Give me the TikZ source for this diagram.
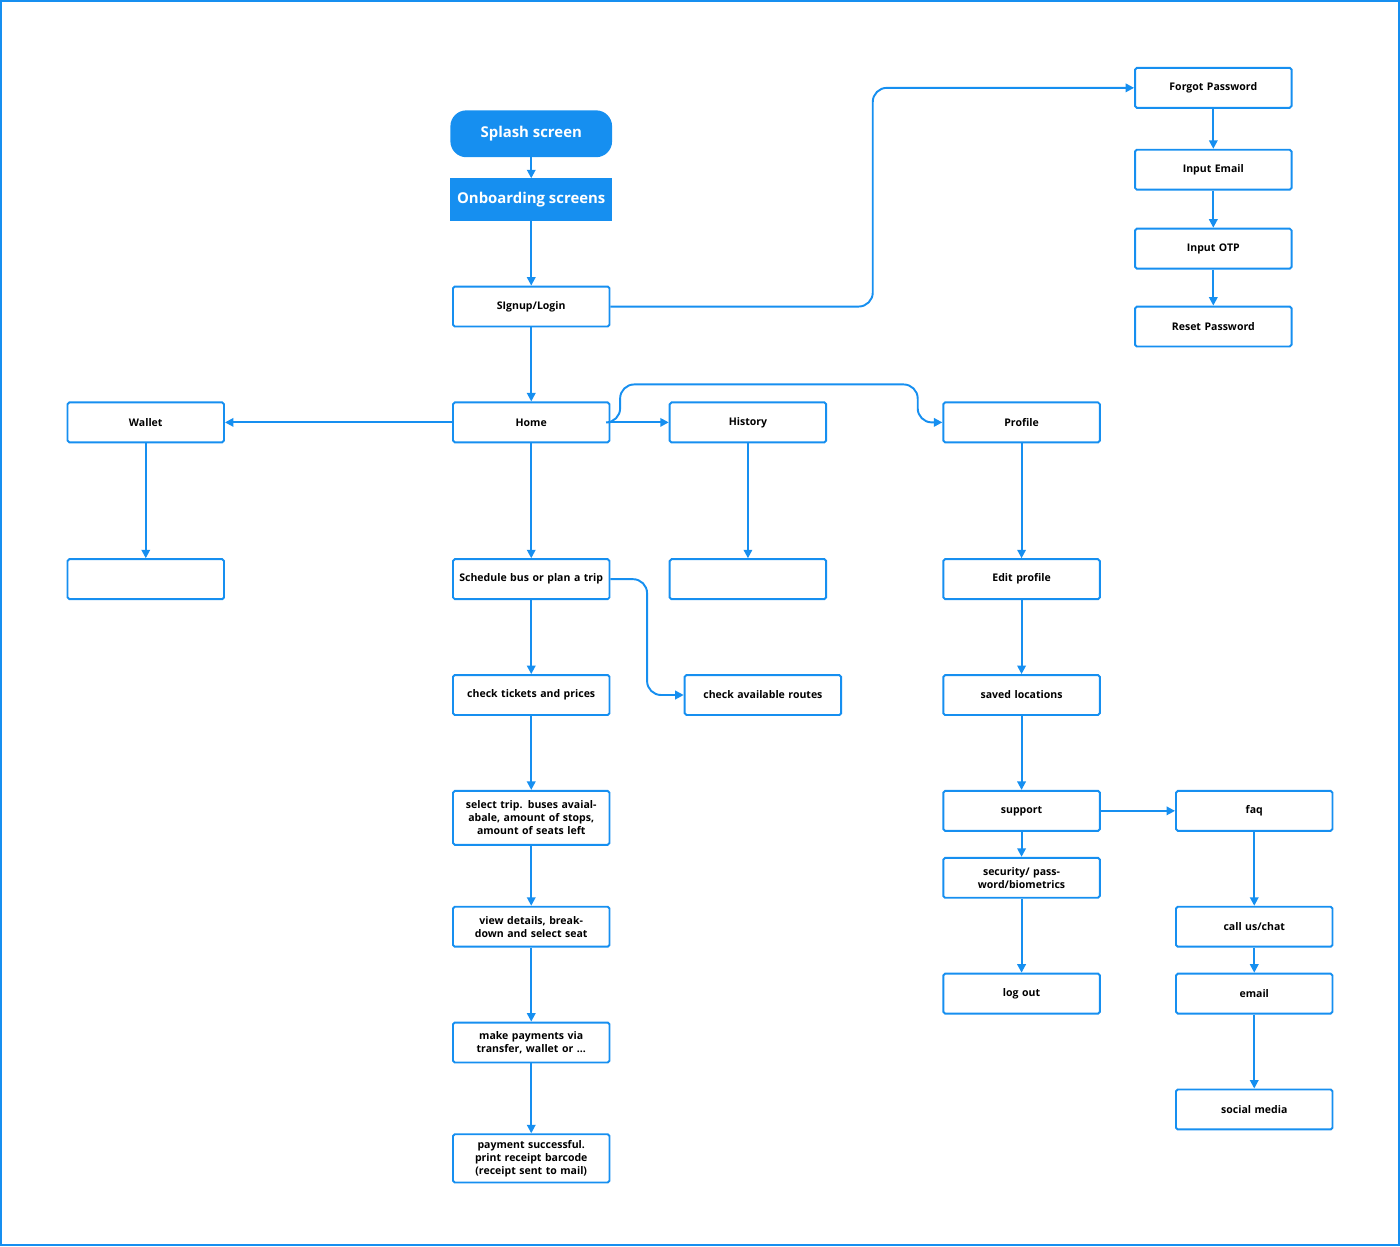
\documentclass[tikz,border=0pt]{standalone}
\usepackage{fontspec}
\setmainfont{Open Sans}
\usetikzlibrary{arrows.meta}
\definecolor{flowblue}{RGB}{22,143,240}

\begin{document}
\begin{tikzpicture}[x=0.02cm,y=-0.02cm,
  every path/.style={>={Triangle[width=0.17cm,length=0.17cm]},line width=1.1pt,draw=flowblue},
  screen/.style={draw=flowblue,line width=1.1pt,rectangle,rounded corners=1pt,minimum width=3.12cm,minimum height=0.8cm,
    text width=2.9cm,align=center,font=\fontsize{6}{7.4}\selectfont\bfseries},
  narrow/.style={screen,minimum width=2.96cm},
  filled/.style={fill=flowblue,text=white,draw=flowblue,font=\fontsize{8.5}{10}\selectfont\bfseries,align=center}]
\useasboundingbox (0,0) rectangle (1400,1246);
\node[filled,rounded corners=0.3cm,minimum width=3.2cm,minimum height=0.9cm] (splash) at (531,133) {Splash screen};
\node[filled,minimum width=2.96cm,minimum height=0.82cm] (onboard) at (531,199) {Onboarding screens};
\node[narrow]    (signup)   at (531,306)  {SIgnup/Login};
\node[narrow]    (forgot)   at (1214,87)  {Forgot Password};
\node[narrow]    (email)    at (1214,169) {Input Email};
\node[narrow]    (otp)      at (1214,248) {Input OTP};
\node[narrow]    (reset)    at (1214,326) {Reset Password};
\node[narrow]    (home)     at (531,422)  {Home};
\node[screen]    (wallet)   at (145,422)  {Wallet};
\node[screen]    (history)  at (748,422)  {History};
\node[screen]    (profile)  at (1022,422) {Profile};
\node[screen]    (walletsub)  at (145,579) {};
\node[screen]    (schedule)   at (531,579) {Schedule bus or plan a trip};
\node[screen]    (historysub) at (748,579) {};
\node[screen]    (editprof)   at (1022,579) {Edit profile};
\node[screen]    (tickets)  at (531,695)  {check tickets and prices};
\node[screen]    (routes)   at (763,695)  {check available routes};
\node[screen]    (saved)    at (1022,695) {saved locations};
\node[screen,minimum height=1.08cm] (trip) at (531,818) {select trip. buses avaialabale, amount of stops, amount of seats left};
\node[screen]    (support)  at (1022,811) {support};
\node[screen]    (faq)      at (1255,811) {faq};
\node[screen]    (details)  at (531,927)  {view details, breakdown and select seat};
\node[screen]    (security) at (1022,878) {security/ password/biometrics};
\node[screen]    (callus)   at (1255,927) {call us/chat};
\node[screen]    (payment)  at (531,1043) {make payments via transfer, wallet or ...};
\node[screen]    (logout)   at (1022,994) {log out};
\node[screen]    (mail)     at (1255,994) {email};
\node[screen]    (success)  at (531,1159) {payment successful. print receipt barcode (receipt sent to mail)};
\node[screen]    (social)   at (1255,1110) {social media};
% main column
\draw[->] (splash) edge (onboard);
\draw[->] (onboard) edge (signup);
\draw[->] (signup) edge (home);
\draw[->] (home) edge (schedule);
\draw[->] (schedule) edge (tickets);
\draw[->] (tickets) edge (trip);
\draw[->] (trip) edge (details);
\draw[->] (details) edge (payment);
\draw[->] (payment) edge (success);
% password reset
\draw[->,rounded corners=8pt] (signup.east) -- (873,306) |- (forgot.west);
\draw[->] (forgot) edge (email);
\draw[->] (email) edge (otp);
\draw[->] (otp) edge (reset);
% home branches
\draw[->] (home.west) -- (wallet.east);
\draw[->] (home.east) -- (history.west);
\draw[->,rounded corners=8pt] (home.east) -- (620,422) |- (918,384) |- (profile.west);
\draw[->] (wallet) edge (walletsub);
\draw[->] (history) edge (historysub);
\draw[->,rounded corners=8pt] (schedule.east) -- (647,579) |- (routes.west);
% profile
\draw[->] (profile) edge (editprof);
\draw[->] (editprof) edge (saved);
\draw[->] (saved) edge (support);
\draw[->] (support) edge (security);
\draw[->] (security) edge (logout);
\draw[->] (support) edge (faq);
\draw[->] (faq) edge (callus);
\draw[->] (callus) edge (mail);
\draw[->] (mail) edge (social);
\end{tikzpicture}
\end{document}
